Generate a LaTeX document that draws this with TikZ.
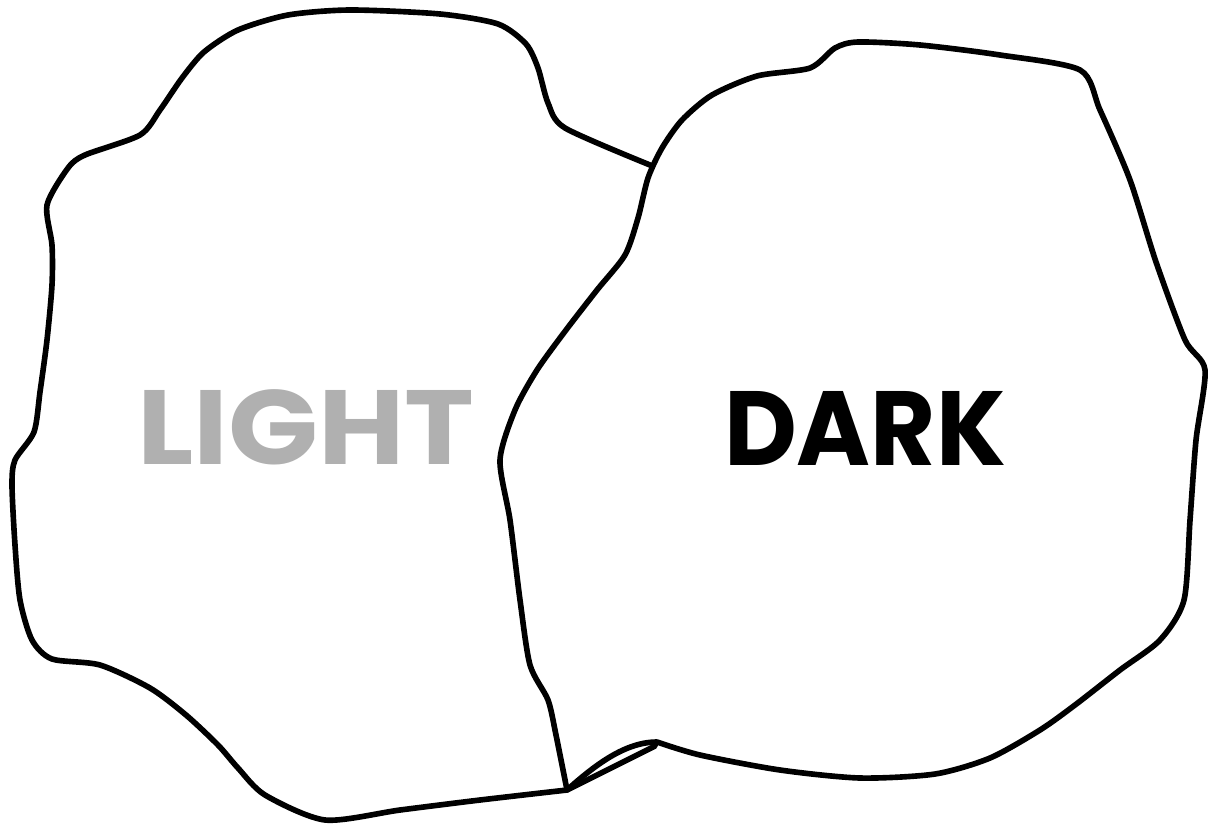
\documentclass[tikz,border=0pt]{standalone}
\usepackage{fontspec}
\setmainfont{Poppins}
\usepackage{xcolor}
\definecolor{lightgrey}{HTML}{B0B0B0}
\tikzset{
  blob/.style={draw=black,fill=white,line width=1.6pt,line join=round},
  label/.style={font=\fontsize{30}{30}\selectfont\bfseries,inner sep=0pt}
}
\begin{document}
\begin{tikzpicture}[x=0.01cm,y=-0.01cm]
  \useasboundingbox (0,0) rectangle (1210,824);

  % left blob
  \draw[blob] plot[smooth,tension=0.45] coordinates {
    (650,165) (565,128) (548,103) (538,68) (526,44) (498,24) (440,14)
    (350,10) (288,15) (238,30) (204,52) (182,78) (160,110) (140,135)
    (85,155) (68,168) (47,205) (52,245) (52,285) (47,340) (40,392)
    (34,432) (15,460) (12,485) (15,545) (20,600) (32,640) (52,659)
    (100,665) (150,688) (186,715) (218,745) (238,768) (265,795)
    (325,820) (400,810) (480,800) (567,790)}
    -- (655,746) -- (640,400) -- (660,170) -- cycle;

  % right blob
  \draw[blob] plot[smooth,tension=0.45] coordinates {
    (567,790) (556,735) (548,700) (530,665) (520,600) (510,520)
    (500,460) (515,410) (537,370) (566,330) (597,290) (625,255)
    (638,218) (648,178) (662,148) (682,120) (712,95) (757,76)
    (810,68) (835,48) (858,42) (920,45) (1000,55) (1080,70)
    (1100,110) (1130,180) (1156,262) (1185,340) (1205,370)
    (1196,440) (1190,520) (1184,600) (1160,640) (1120,670)
    (1075,705) (1040,730) (990,758) (935,774) (860,778) (780,770)
    (700,755) (657,742)}
    .. controls (625,742) and (595,765) .. (567,790) -- cycle;

  \node[label,text=lightgrey,xscale=1.12] (light) at (306,427) {LIGHT};
  \node[label,text=black,xscale=0.95] (dark) at (865,428) {DARK};
\end{tikzpicture}
\end{document}
